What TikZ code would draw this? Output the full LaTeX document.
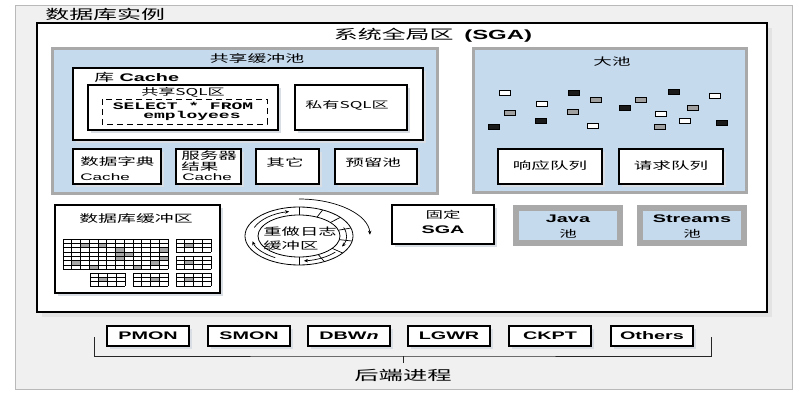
\documentclass[tikz,border=0pt]{standalone}
\usepackage{fontspec}
\setmainfont{Liberation Sans}
\newfontfamily\zh{Noto Sans CJK SC}
\newfontfamily\code{Liberation Mono}
\usetikzlibrary{arrows.meta}
\definecolor{poolblue}{HTML}{C6DAEE}
\definecolor{poolgrey}{HTML}{A9A9A9}
\definecolor{framegrey}{HTML}{F0F0F0}
\definecolor{shade}{HTML}{D9DEE5}
\definecolor{cellgrey}{HTML}{A6A6A6}
\definecolor{chipdark}{HTML}{1A1A1A}
\definecolor{chipgrey}{HTML}{A0A0A0}

% buffer grid: x, y, cols, rows
\newcommand{\bufgrid}[4]{%
  \foreach \i in {0,...,#3}
    \draw[gridline] ({#1+\i*8.75},#2) -- ({#1+\i*8.75},{#2+#4*4.3});
  \foreach \j in {0,...,#4}
    \draw[gridline] (#1,{#2+\j*4.3}) -- ({#1+#3*8.75},{#2+\j*4.3});
}
% grey cell: grid x, grid y, col, row
\newcommand{\greycell}[4]{%
  \fill[cellgrey] ({#1+#3*8.75},{#2+#4*4.3}) rectangle ++(8.75,4.3);}

\begin{document}
\begin{tikzpicture}[x=1pt,y=-1pt,
  lbl/.style={inner sep=0pt, xscale=1.8},
  shbox/.style={draw=black, line width=1.5pt, fill=white,
    preaction={fill=shade, transform canvas={xshift=3pt,yshift=-3pt}}},
  pool/.style={draw=poolgrey, line width=3pt, fill=poolblue},
  smallpool/.style={draw=poolgrey, line width=6pt, fill=poolblue},
  gridline/.style={line width=0.6pt},
  chip/.style={draw=black, line width=0.7pt},
  ringarrow/.style={-{Stealth[length=4pt,width=3.5pt]}, line width=0.7pt}]
  \useasboundingbox (0,0) rectangle (796,404);

  % instance frame
  \draw[gray!55, fill=framegrey, line width=0.8pt] (15,5) rectangle (792,389);
  \node[lbl, anchor=west, font=\zh\fontsize{13.3}{14}\selectfont] (inst) at (45,14) {数据库实例};

  % SGA
  \draw[line width=2.2pt, fill=white,
    preaction={fill=gray!22, transform canvas={xshift=5pt,yshift=-5pt}}] (37,23) rectangle (767,312);
  \node[lbl, font=\zh\fontsize{13.3}{14}\selectfont] (sga) at (433,35) {系统全局区\ \ {\rmfamily\bfseries (SGA)}};

  % shared pool
  \draw[pool] (52,49) rectangle (437,193);
  \node[lbl, font=\zh\fontsize{10.5}{12}\selectfont] (shpool) at (257,58) {共享缓冲池};
  \draw[shbox] (73,68) rectangle (423,140);
  \node[lbl, anchor=west, font=\fontsize{11}{12}\selectfont] (libc) at (94,77) {{\zh 库}\ \textbf{Cache}};
  \draw[shbox] (88,85) rectangle (278,130);
  \node[lbl, font=\zh\fontsize{9.5}{11}\selectfont] (shsql) at (183,92) {共享SQL区};
  \draw[line width=0.8pt, dash pattern=on 6pt off 4pt] (102,99) rectangle (267,124);
  \node[lbl, font=\code\bfseries\fontsize{10}{10}\selectfont] (sel) at (183,106) {SELECT * FROM};
  \node[lbl, font=\code\bfseries\fontsize{10}{10}\selectfont] (emp) at (192,116) {employees};
  \draw[shbox] (295,85) rectangle (407,130);
  \node[lbl, anchor=west, font=\zh\fontsize{9.5}{11}\selectfont] (prsql) at (305,105) {私有SQL区};

  \draw[shbox] (73,149) rectangle (161,184);
  \node[lbl, anchor=west, font=\zh\fontsize{10.3}{11}\selectfont] (dict) at (80,162) {数据字典};
  \node[lbl, anchor=west, font=\fontsize{9.5}{11}\selectfont] (dictc) at (80,177) {Cache};
  \draw[shbox] (176,149) rectangle (241,184);
  \node[lbl, anchor=west, font=\zh\fontsize{10.3}{11}\selectfont] (srv) at (181,156) {服务器};
  \node[lbl, anchor=west, font=\zh\fontsize{10.3}{11}\selectfont] (srvres) at (181,167) {结果};
  \node[lbl, anchor=west, font=\fontsize{9.5}{11}\selectfont] (srvc) at (182,177) {Cache};
  \draw[shbox] (256,149) rectangle (319,184);
  \node[lbl, font=\zh\fontsize{10.3}{11}\selectfont] (other) at (285,163) {其它};
  \draw[shbox] (335,149) rectangle (417,184);
  \node[lbl, anchor=west, font=\zh\fontsize{10.3}{11}\selectfont] (resv) at (345,163) {预留池};

  % large pool
  \draw[pool] (473,49) rectangle (746,192);
  \node[lbl, font=\zh\fontsize{10.3}{11}\selectfont] (lpool) at (612,62) {大池};
  \foreach \x/\y/\c in {505/93/white, 510/113/chipgrey, 494/127/chipdark, 542/104/white,
      541/121/chipdark, 574/93/chipdark, 573/112/chipgrey, 596/100/chipgrey, 593/126/white,
      625/108/chipdark, 641/100/chipgrey, 661/114/white, 660/127/chipgrey, 674/92/chipdark,
      693/108/chipgrey, 685/121/white, 715/96/white, 722/123/chipdark}
    \draw[chip, fill=\c] (\x-5.5,\y-2.8) rectangle (\x+5.5,\y+2.8);
  \draw[shbox] (498,149) rectangle (602,184);
  \node[lbl, font=\zh\fontsize{10.3}{11}\selectfont] (resp) at (550,166) {响应队列};
  \draw[shbox] (619,149) rectangle (723,184);
  \node[lbl, font=\zh\fontsize{10.3}{11}\selectfont] (req) at (671,166) {请求队列};

  % database buffer cache
  \draw[shbox, line width=1.8pt] (55,205) rectangle (220,293);
  \node[lbl, font=\zh\fontsize{10.5}{11}\selectfont] (dbbuf) at (136,219) {数据库缓冲区};
  \foreach \c/\r in {2/1,4/1,6/2,6/3,6/4,7/3,11/2,11/4,1/5,3/6,8/6,10/5}
    \greycell{63}{239}{\c}{\r};
  \greycell{176}{239}{1}{1}; \greycell{176}{256}{1}{1};
  \greycell{90}{273}{1}{1}; \greycell{133}{273}{2}{1}; \greycell{176}{273}{1}{1};
  \bufgrid{63}{239}{12}{7}
  \bufgrid{176}{239}{4}{3}
  \bufgrid{176}{256}{4}{3}
  \bufgrid{90}{273}{4}{3}
  \bufgrid{133}{273}{4}{3}
  \bufgrid{176}{273}{4}{3}

  % redo log buffer
  \coordinate (redo) at (299,236);
  \draw[line width=0.8pt] (redo) ellipse [x radius=54, y radius=29];
  \draw[line width=0.8pt] (redo) ellipse [x radius=41, y radius=21];
  \foreach \a in {-90,-64,-40,-16,10,36,62,90}
    \draw[line width=0.7pt] ([shift={(\a:41 and 21)}]redo) -- ([shift={(\a:54 and 29)}]redo);
  \draw[ringarrow] ([shift={(200:47.5 and 25)}]redo) arc[start angle=200, end angle=258, x radius=47.5, y radius=25];
  \draw[ringarrow] ([shift={(120:47.5 and 25)}]redo) arc[start angle=120, end angle=168, x radius=47.5, y radius=25];
  \draw[ringarrow] ([shift={(40:47.5 and 25)}]redo) arc[start angle=40, end angle=84, x radius=47.5, y radius=25];
  \draw[ringarrow] ([shift={(-20:47.5 and 25)}]redo) arc[start angle=-20, end angle=25, x radius=47.5, y radius=25];
  \draw[ringarrow] ([shift={(-90:71 and 37)}]redo) arc[start angle=-90, end angle=-2, x radius=71, y radius=37];
  \node[lbl, anchor=west, font=\zh\fontsize{10.2}{11}\selectfont] (redo1) at (263,232) {重做日志};
  \node[lbl, anchor=west, font=\zh\fontsize{10.2}{11}\selectfont] (redo2) at (263,246) {缓冲区};

  % fixed SGA, java, streams
  \draw[shbox] (392,205) rectangle (494,244);
  \node[lbl, font=\zh\fontsize{9.7}{11}\selectfont] (fixed) at (443,215) {固定};
  \node[lbl, font=\bfseries\fontsize{11}{12}\selectfont] (fixsga) at (443,230) {SGA};
  \draw[smallpool] (516,208) rectangle (620,243);
  \node[lbl, font=\bfseries\fontsize{11}{12}\selectfont] (java) at (568,219) {Java};
  \node[lbl, font=\zh\fontsize{9.7}{11}\selectfont] (javap) at (568,234) {池};
  \draw[smallpool] (640,208) rectangle (744,243);
  \node[lbl, font=\bfseries\fontsize{11}{12}\selectfont] (strm) at (692,219) {Streams};
  \node[lbl, font=\zh\fontsize{9.7}{11}\selectfont] (strmp) at (692,234) {池};

  % background processes
  \foreach \x/\nm/\lab in {148/pmon/PMON, 249/smon/SMON, 349/dbwn/DBW\textit{n},
      449/lgwr/LGWR, 550/ckpt/CKPT, 652/others/Others} {
    \draw[shbox] (\x-41,326) rectangle (\x+41,346);
    \node[lbl, font=\bfseries\fontsize{11}{12}\selectfont] (\nm) at (\x,336) {\lab};
  }
  \coordinate (brl) at (94,337);
  \coordinate (brr) at (711,337);
  \coordinate (brbase) at (403,356);
  \node[lbl, anchor=north, font=\zh\fontsize{13.5}{14}\selectfont] (backend) at (403,369) {后端进程};
  \draw[line width=0.8pt, gray!30!black] (brl) |- (brbase) -| (brr);
  \draw[line width=0.8pt, gray!30!black] (brbase) -- (403,363);
\end{tikzpicture}
\end{document}
